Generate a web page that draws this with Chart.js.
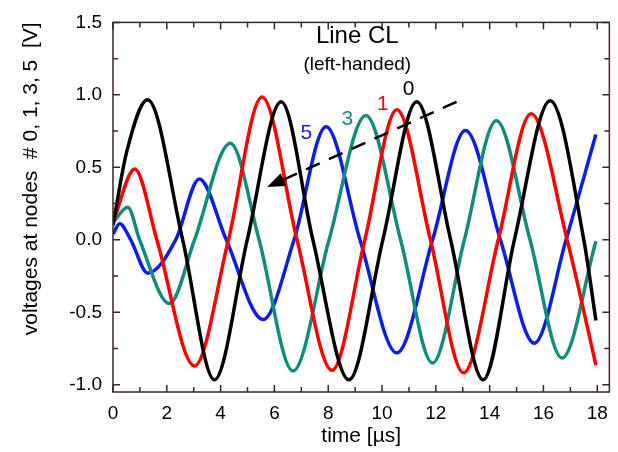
<!DOCTYPE html>
<html>
<head>
<meta charset="utf-8">
<script src="https://cdn.jsdelivr.net/npm/chart.js@4.4.1/dist/chart.umd.min.js"></script>
<style>
  body { margin: 0; background: #fff; }
  #wrap { width: 618px; height: 452px; }
</style>
</head>
<body>
<div id="wrap"><canvas id="clChart" width="618" height="452"></canvas></div>
<script>
// readings: time [us] and voltage [V] per node
var node0T = [0, 0.5, 1.29, 2.59, 3.77, 4.99, 6.25, 7.43, 8.77, 10.03, 11.29, 12.55, 13.76, 14.92, 16.25, 17.5, 17.95];
var node0V = [0.1, 0.6, 0.966, 0, -0.966, 0, 0.952, 0, -0.966, 0, 0.952, 0, -0.966, 0, 0.96, 0, -0.556];

var node1T = [0, 0.81, 1.63, 3.03, 4.29, 5.54, 6.84, 8.14, 9.36, 10.55, 11.8, 13.03, 14.32, 15.54, 16.88, 17.95];
var node1V = [0.12, 0.488, 0, -0.87, 0, 0.986, 0, -0.9, 0, 0.898, 0, -0.918, 0, 0.87, 0, -0.864];

var node3T = [0, 0.55, 0.99, 2.1, 3.03, 4.36, 5.43, 6.69, 8.03, 9.4, 10.69, 11.88, 13.06, 14.25, 15.5, 16.69, 17.95];
var node3V = [0.12, 0.225, 0, -0.44, 0, 0.666, 0, -0.905, 0, 0.857, 0, -0.85, 0, 0.822, 0, -0.816, -0.01];

var node5T = [0, 0.25, 0.66, 1.29, 2.33, 3.21, 4.21, 5.58, 6.73, 7.92, 9.18, 10.55, 11.88, 13.1, 14.4, 15.66, 16.84, 17.95];
var node5V = [0.04, 0.11, 0, -0.23, 0, 0.42, 0, -0.55, 0, 0.78, 0, -0.78, 0, 0.754, 0, -0.713, 0, 0.727];

// axis ticks
var xTicks = [0, 2, 4, 6, 8, 10, 12, 14, 16, 18];
var xMinor = [1, 3, 5, 7, 9, 11, 13, 15, 17];
var yTicks = [-1.0, -0.5, 0.0, 0.5, 1.0, 1.5];
var yMinor = [-0.75, -0.25, 0.25, 0.75, 1.25];

// text labels, placed in data units
var notes = [
  { text: 'Line CL', x: 9.08, y: 1.355, size: 24, color: '#000' },
  { text: '(left-handed)', x: 9.08, y: 1.171, size: 19, color: '#000' },
  { text: '0', x: 10.99, y: 1.0, size: 21, color: '#000' },
  { text: '1', x: 10.03, y: 0.898, size: 21, color: '#ff0000' },
  { text: '3', x: 8.71, y: 0.795, size: 21, color: '#148c7c' },
  { text: '5', x: 7.19, y: 0.693, size: 21, color: '#0a1ee6' }
];
var arrowFrom = [12.77, 0.952];
var arrowTo = [5.73, 0.365];

function pts(t, v) {
  return t.map(function (x, i) { return { x: x, y: v[i] }; });
}

Chart.defaults.font.family = '"Liberation Sans", Arial, sans-serif';
Chart.defaults.color = '#000';

var frameColor = '#3a2626';

// frame, inward ticks, labels and arrow
var extras = {
  id: 'extras',
  afterDatasetsDraw: function (chart) {
    var c = chart.ctx, a = chart.chartArea;
    var xs = chart.scales.x, ys = chart.scales.y;
    c.save();
    c.strokeStyle = frameColor;
    c.lineWidth = 1.5;
    c.strokeRect(a.left, a.top, a.right - a.left, a.bottom - a.top);
    c.beginPath();
    function xt(v, len) {
      var p = xs.getPixelForValue(v);
      c.moveTo(p, a.bottom); c.lineTo(p, a.bottom - len);
      c.moveTo(p, a.top); c.lineTo(p, a.top + len);
    }
    function yt(v, len) {
      var p = ys.getPixelForValue(v);
      c.moveTo(a.left, p); c.lineTo(a.left + len, p);
      c.moveTo(a.right, p); c.lineTo(a.right - len, p);
    }
    xTicks.forEach(function (v) { xt(v, 7); });
    xMinor.forEach(function (v) { xt(v, 5); });
    yTicks.forEach(function (v) { yt(v, 7); });
    yMinor.forEach(function (v) { yt(v, 5); });
    c.stroke();

    c.textAlign = 'center';
    c.textBaseline = 'alphabetic';
    notes.forEach(function (n) {
      c.font = n.size + 'px "Liberation Sans", Arial, sans-serif';
      c.fillStyle = n.color;
      c.fillText(n.text, xs.getPixelForValue(n.x), ys.getPixelForValue(n.y));
    });

    // dashed arrow
    var x1 = xs.getPixelForValue(arrowFrom[0]), y1 = ys.getPixelForValue(arrowFrom[1]);
    var x2 = xs.getPixelForValue(arrowTo[0]), y2 = ys.getPixelForValue(arrowTo[1]);
    var ang = Math.atan2(y2 - y1, x2 - x1);
    var hl = 18, hw = 7;
    var bx = x2 - hl * Math.cos(ang), by = y2 - hl * Math.sin(ang);
    c.strokeStyle = '#000';
    c.lineWidth = 2.5;
    c.setLineDash([15, 10]);
    c.beginPath();
    c.moveTo(x1, y1); c.lineTo(bx, by);
    c.stroke();
    c.setLineDash([]);
    c.fillStyle = '#000';
    c.beginPath();
    c.moveTo(x2, y2);
    c.lineTo(bx + hw * Math.sin(ang), by - hw * Math.cos(ang));
    c.lineTo(bx - hw * Math.sin(ang), by + hw * Math.cos(ang));
    c.closePath();
    c.fill();
    c.restore();
  }
};

var ctx = document.getElementById('clChart').getContext('2d');

var clChart = new Chart(ctx, {
  type: 'line',
  data: {
    datasets: [
      { label: 'node 0', data: pts(node0T, node0V), borderColor: '#000000' },
      { label: 'node 1', data: pts(node1T, node1V), borderColor: '#ff0000' },
      { label: 'node 3', data: pts(node3T, node3V), borderColor: '#148c7c' },
      { label: 'node 5', data: pts(node5T, node5V), borderColor: '#0a1ee6' }
    ]
  },
  options: {
    responsive: false,
    animation: false,
    layout: { padding: { top: 19, right: 7, left: 0, bottom: 0 } },
    plugins: { legend: { display: false }, tooltip: { enabled: false } },
    elements: {
      point: { radius: 0 },
      line: { borderWidth: 3.5, cubicInterpolationMode: 'monotone', fill: false }
    },
    scales: {
      x: {
        type: 'linear', min: 0, max: 18.45,
        grid: { display: false, drawTicks: false }, border: { display: false },
        afterBuildTicks: function (s) { s.ticks = xTicks.map(function (v) { return { value: v }; }); },
        afterFit: function (s) { s.height = 60; },
        ticks: { padding: 10, font: { size: 19 }, maxRotation: 0, autoSkip: false },
        title: { display: true, text: 'time [µs]', font: { size: 21 }, padding: { top: 0, bottom: 3 } }
      },
      y: {
        type: 'linear', min: -1.05, max: 1.5,
        grid: { display: false, drawTicks: false }, border: { display: false },
        afterBuildTicks: function (s) { s.ticks = yTicks.map(function (v) { return { value: v }; }); },
        afterFit: function (s) { s.width = 113; },
        ticks: { padding: 11, font: { size: 19 }, autoSkip: false,
                 callback: function (v) { return v.toFixed(1); } },
        title: { display: true, text: 'voltages at nodes  # 0, 1, 3, 5  [V]', align: 'end',
                 font: { size: 21 }, padding: { top: 19, bottom: 0 } }
      }
    }
  },
  plugins: [extras]
});
</script>
</body>
</html>
